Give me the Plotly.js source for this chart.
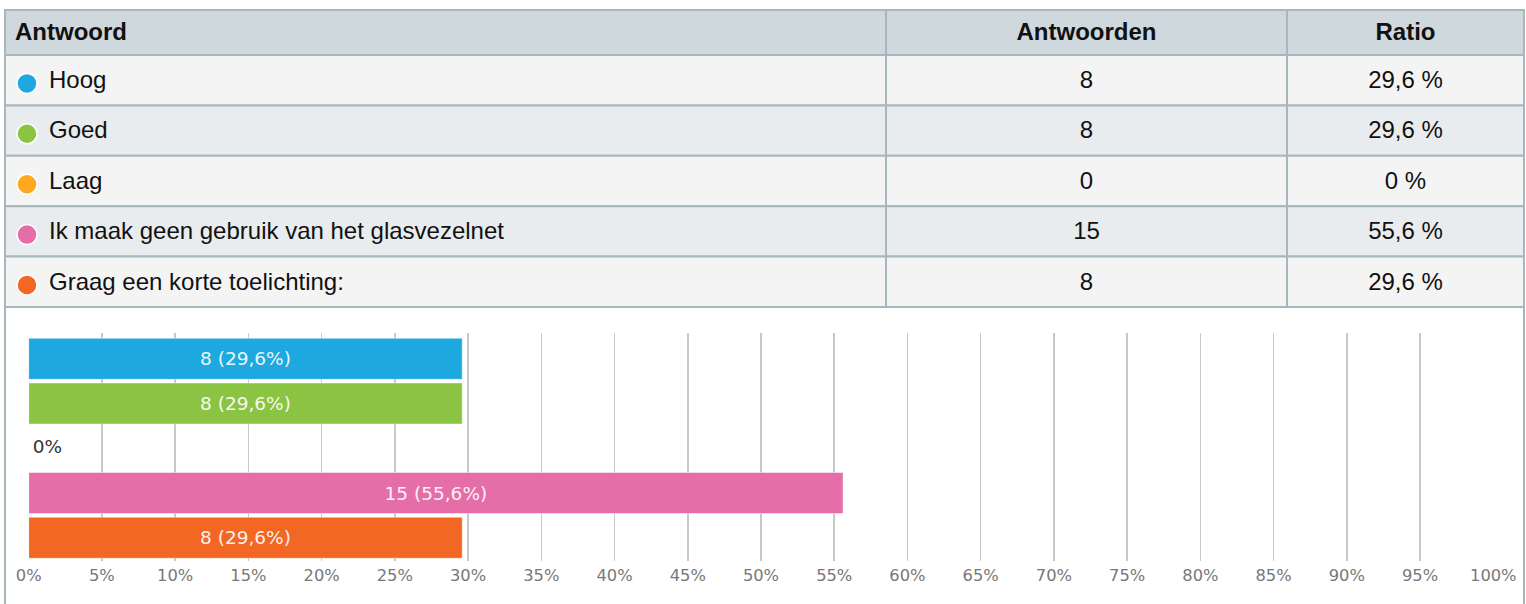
<!DOCTYPE html>
<html>
<head>
<meta charset="utf-8">
<script src="https://cdn.plot.ly/plotly-3.0.1.min.js"></script>
<style>
html,body{margin:0;padding:0;background:#ffffff;}
#chart{width:1526px;height:604px;}
</style>
</head>
<body>
<div id="chart"></div>
<script>
// ---------- DATA ----------
const headers = ['Antwoord', 'Antwoorden', 'Ratio'];
const answers = ['Hoog', 'Goed', 'Laag', 'Ik maak geen gebruik van het glasvezelnet', 'Graag een korte toelichting:'];
const counts = [8, 8, 0, 15, 8];
const ratios = [29.6, 29.6, 0, 55.6, 29.6];
const ratioLabels = ['29,6 %', '29,6 %', '0 %', '55,6 %', '29,6 %'];
const barLabels = ['8 (29,6%)', '8 (29,6%)', '0%', '15 (55,6%)', '8 (29,6%)'];
const tickValues = [0, 5, 10, 15, 20, 25, 30, 35, 40, 45, 50, 55, 60, 65, 70, 75, 80, 85, 90, 95, 100];
const tickLabels = ['0%', '5%', '10%', '15%', '20%', '25%', '30%', '35%', '40%', '45%', '50%', '55%', '60%', '65%', '70%', '75%', '80%', '85%', '90%', '95%', '100%'];

// ---------- STYLE / LAYOUT CONSTANTS ----------
const colors = ['#1ea8e0', '#8bc443', '#fca920', '#e56ea9', '#f26724'];
const W = 1526, H = 604;
const colEdges = [5, 886, 1287, 1524];
const headTop = 10, headH = 45, rowH = 50.4;
const headFill = '#cfd8dc';
const rowFills = ['#f4f4f4', '#e9ecee'];
const borderColor = '#a8b6bd';
const tableFont = 'Liberation Sans, Arial, sans-serif';
const chartFont = 'DejaVu Sans, Verdana, sans-serif';
const textShift = 1.8, dotShift = 3.2;

// ---------- TABLE GEOMETRY (derived) ----------
const headCenter = headTop + headH / 2;
const rowCenters = answers.map((_, i) => headTop + headH + rowH * (i + 0.5));
const tableBottom = headTop + headH + rowH * answers.length;
const colLefts = colEdges.slice(0, 3);
const colWidths = colLefts.map((l, i) => colEdges[i + 1] - l);
const colCenters = colLefts.map((l, i) => l + colWidths[i] / 2);

const traces = [];

// ---------- CHART ----------
traces.push({
  type: 'bar', orientation: 'h', xaxis: 'x', yaxis: 'y',
  x: ratios, y: answers,
  width: 0.917,
  marker: { color: colors, line: { color: 'rgba(255,255,255,0.45)', width: 1 } },
  text: barLabels.map((t, i) => ratios[i] > 0 ? t : ''),
  textposition: 'inside', insidetextanchor: 'middle', constraintext: 'none', textangle: 0,
  textfont: { family: chartFont, size: 18.5, color: 'rgba(255,255,255,0.93)' },
  hoverinfo: 'skip'
});
const zeroIdx = ratios.map((r, i) => r === 0 ? i : -1).filter(i => i >= 0);
traces.push({
  type: 'scatter', mode: 'markers+text', xaxis: 'x', yaxis: 'y',
  x: zeroIdx.map(i => ratios[i]), y: zeroIdx.map(i => answers[i]),
  text: zeroIdx.map(i => barLabels[i]),
  textposition: 'middle right',
  marker: { size: 5, opacity: 0 },
  textfont: { family: chartFont, size: 18.5, color: '#333333' },
  cliponaxis: false, hoverinfo: 'skip'
});

// ---------- TABLE CELLS (as bars on a pixel-like axis pair) ----------
const cellYs = [headCenter].concat(rowCenters);
const cellHs = [headH].concat(rowCenters.map(() => rowH));
const cellFills = [headFill].concat(rowCenters.map((_, i) => rowFills[i % 2]));
colLefts.forEach((l, c) => {
  traces.push({
    type: 'bar', orientation: 'h', xaxis: 'x2', yaxis: 'y2',
    y: cellYs, x: cellYs.map(() => colWidths[c]), base: cellYs.map(() => l),
    width: cellHs,
    marker: { color: cellFills, line: { color: borderColor, width: 2 } },
    hoverinfo: 'skip'
  });
});
// chart container border (continues below the table)
traces.push({
  type: 'bar', orientation: 'h', xaxis: 'x2', yaxis: 'y2',
  y: [tableBottom + 200], x: [colEdges[3] - colEdges[0]], base: [colEdges[0]], width: [400],
  marker: { color: 'rgba(0,0,0,0)', line: { color: borderColor, width: 2 } },
  hoverinfo: 'skip'
});

// header text
traces.push({
  type: 'scatter', mode: 'text', xaxis: 'x2', yaxis: 'y2',
  x: [15, colCenters[1], colCenters[2]],
  y: headers.map(() => headCenter + textShift),
  text: headers.map(h => '<b>' + h + '</b>'),
  textposition: ['middle right', 'middle center', 'middle center'],
  textfont: { family: tableFont, size: 24, color: '#111111' },
  hoverinfo: 'skip', cliponaxis: false
});
// answer labels
traces.push({
  type: 'scatter', mode: 'text', xaxis: 'x2', yaxis: 'y2',
  x: answers.map(() => 49), y: rowCenters.map(c => c + textShift),
  text: answers, textposition: 'middle right',
  textfont: { family: tableFont, size: 24, color: '#111111' },
  hoverinfo: 'skip', cliponaxis: false
});
// counts
traces.push({
  type: 'scatter', mode: 'text', xaxis: 'x2', yaxis: 'y2',
  x: counts.map(() => colCenters[1]), y: rowCenters.map(c => c + textShift),
  text: counts.map(String), textposition: 'middle center',
  textfont: { family: tableFont, size: 24, color: '#111111' },
  hoverinfo: 'skip', cliponaxis: false
});
// ratios
traces.push({
  type: 'scatter', mode: 'text', xaxis: 'x2', yaxis: 'y2',
  x: ratioLabels.map(() => colCenters[2]), y: rowCenters.map(c => c + textShift),
  text: ratioLabels, textposition: 'middle center',
  textfont: { family: tableFont, size: 24, color: '#111111' },
  hoverinfo: 'skip', cliponaxis: false
});
// colour dots
traces.push({
  type: 'scatter', mode: 'markers', xaxis: 'x2', yaxis: 'y2',
  x: answers.map(() => 27), y: rowCenters.map(c => c + dotShift),
  marker: { size: 20, color: colors, line: { color: '#ffffff', width: 1.5 } },
  hoverinfo: 'skip', cliponaxis: false
});

const layout = {
  width: W, height: H,
  margin: { l: 0, r: 0, t: 0, b: 0, pad: 0 },
  paper_bgcolor: '#ffffff', plot_bgcolor: 'rgba(0,0,0,0)',
  showlegend: false, barmode: 'overlay',
  xaxis: {
    domain: [28.7 / W, 1493.3 / W], range: [0, 100],
    tickmode: 'array', tickvals: tickValues, ticktext: tickLabels,
    showgrid: true, gridcolor: '#c8c8c8', gridwidth: 1.6,
    zeroline: false, showline: false, ticks: '', ticklabelstandoff: 3,
    tickfont: { family: chartFont, size: 16.3, color: '#787878' },
    fixedrange: true
  },
  yaxis: {
    domain: [(H - 561) / H, (H - 333) / H],
    type: 'category', categoryorder: 'array', categoryarray: answers,
    range: [4.52, -0.577],
    showticklabels: false, showgrid: false, zeroline: false, showline: false, ticks: '',
    fixedrange: true
  },
  xaxis2: { anchor: 'y2', domain: [0, 1], range: [0, W], visible: false, fixedrange: true },
  yaxis2: { anchor: 'x2', domain: [0, 1], range: [H, 0], visible: false, fixedrange: true }
};

Plotly.newPlot('chart', traces, layout, { staticPlot: true, displayModeBar: false });
</script>
</body>
</html>
